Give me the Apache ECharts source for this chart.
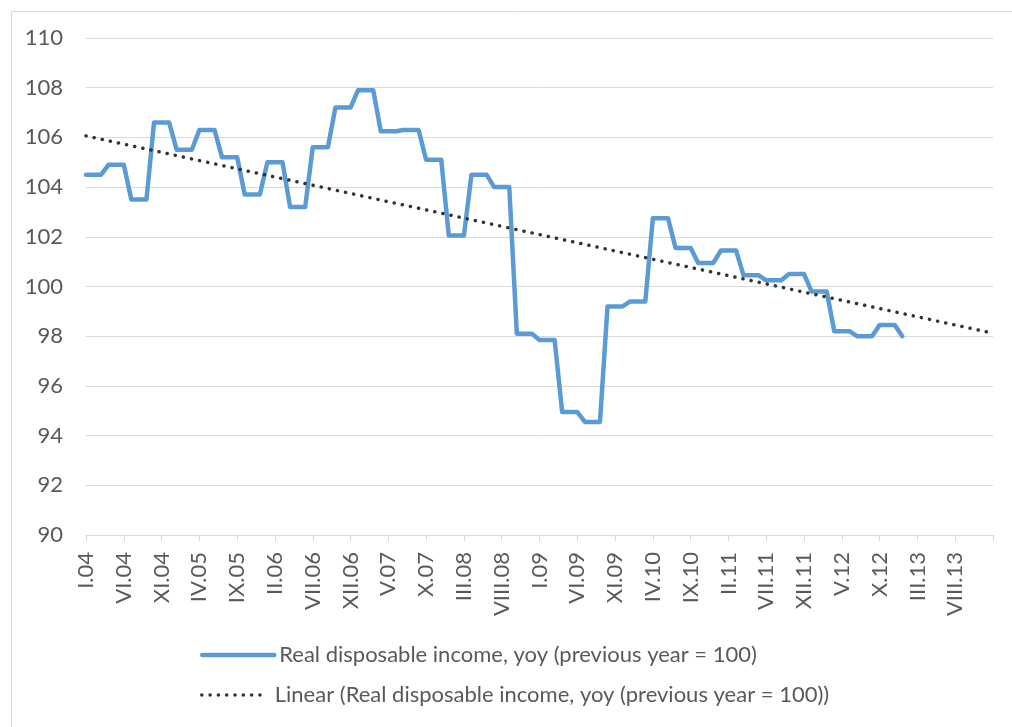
<!DOCTYPE html>
<html>
<head>
<meta charset="utf-8">
<script src="https://cdn.jsdelivr.net/npm/echarts@6/dist/echarts.min.js"></script>
<style>
  html, body { margin: 0; padding: 0; background: #fff; }
  #myChart { width: 1012px; height: 727px; }
</style>
</head>
<body>
<div id="myChart"></div>
<script>
// month labels I.04 ... I.14
var romanMonths = ['I', 'II', 'III', 'IV', 'V', 'VI', 'VII', 'VIII', 'IX', 'X', 'XI', 'XII'];
var yearLabels = ['04', '05', '06', '07', '08', '09', '10', '11', '12', '13', '14'];

// real disposable income, yoy, monthly I.04 - I.13 (quarterly values held per month)
var incomeValues = [
  104.5, 104.5, 104.5, 104.9, 104.9, 104.9, 103.5, 103.5, 103.5, 106.6, 106.6, 106.6,
  105.5, 105.5, 105.5, 106.3, 106.3, 106.3, 105.2, 105.2, 105.2, 103.7, 103.7, 103.7,
  105.0, 105.0, 105.0, 103.2, 103.2, 103.2, 105.6, 105.6, 105.6, 107.2, 107.2, 107.2,
  107.9, 107.9, 107.9, 106.25, 106.25, 106.25, 106.3, 106.3, 106.3, 105.1, 105.1, 105.1,
  102.05, 102.05, 102.05, 104.5, 104.5, 104.5, 104.0, 104.0, 104.0, 98.1, 98.1, 98.1,
  97.85, 97.85, 97.85, 94.95, 94.95, 94.95, 94.55, 94.55, 94.55, 99.2, 99.2, 99.2,
  99.4, 99.4, 99.4, 102.75, 102.75, 102.75, 101.55, 101.55, 101.55, 100.95, 100.95, 100.95,
  101.45, 101.45, 101.45, 100.45, 100.45, 100.45, 100.25, 100.25, 100.25, 100.5, 100.5, 100.5,
  99.8, 99.8, 99.8, 98.2, 98.2, 98.2, 98.0, 98.0, 98.0, 98.45, 98.45, 98.45,
  98.0
];

// linear trend end points: [category index, value]
var trendPoints = [[0, 106.06], [120, 98.12]];

var seriesName = 'Real disposable income, yoy (previous year = 100)';
var trendName = 'Linear (Real disposable income, yoy (previous year = 100))';

var categories = [];
for (var y = 0; y < yearLabels.length; y++) {
  for (var m = 0; m < 12; m++) {
    categories.push(romanMonths[m] + '.' + yearLabels[y]);
  }
}
categories = categories.slice(0, 121);

var font = 'Lato, "Noto Sans", sans-serif';
var textColor = '#595959';
var blue = '#5b9bd5';
var dotColor = '#333333';

var dom = document.getElementById('myChart');
var myChart = echarts.init(dom, null, { renderer: 'canvas' });

var option = {
  animation: false,
  backgroundColor: '#fff',
  graphic: [{
    type: 'rect',
    left: 9, top: 9,
    shape: { width: 1020, height: 740 },
    style: { fill: 'none', stroke: '#d9d9d9', lineWidth: 1 }
  }],
  legend: [
    {
      data: [seriesName],
      left: 195, top: 637,
      itemWidth: 72, itemHeight: 14,
      itemStyle: { opacity: 0 },
      lineStyle: { color: blue, width: 4.5, cap: 'round' },
      textStyle: { fontFamily: font, fontSize: 22, color: textColor, lineHeight: 26 }
    },
    {
      data: [trendName],
      left: 195, top: 677,
      itemWidth: 64, itemHeight: 14,
      itemStyle: { opacity: 0 },
      lineStyle: { color: dotColor, width: 3.5, type: [0.1, 8.2], cap: 'round' },
      textStyle: { fontFamily: font, fontSize: 22, color: textColor, lineHeight: 26, padding: [0, 0, 0, 4] }
    }
  ],
  grid: { left: 86, right: 19, top: 38, bottom: 192, containLabel: false },
  xAxis: {
    type: 'category',
    data: categories,
    boundaryGap: false,
    axisLine: { lineStyle: { color: '#d9d9d9', width: 1 } },
    axisTick: {
      length: 6,
      interval: function (index) { return index % 5 === 0; },
      lineStyle: { color: '#d9d9d9' }
    },
    axisLabel: {
      rotate: 90,
      margin: 17,
      interval: function (index) { return index % 5 === 0 && index < 120; },
      fontFamily: font, fontSize: 22, color: textColor
    },
    splitLine: { show: false }
  },
  yAxis: {
    type: 'value',
    min: 90, max: 110, interval: 2,
    axisLine: { show: false },
    axisTick: { show: false },
    axisLabel: { margin: 23, fontFamily: font, fontSize: 22, color: textColor },
    splitLine: { lineStyle: { color: '#d9d9d9', width: 1 } }
  },
  series: [
    {
      name: seriesName,
      type: 'line',
      data: incomeValues,
      symbol: 'none',
      lineStyle: { color: blue, width: 4.5, join: 'round', cap: 'round' },
      itemStyle: { color: blue },
      z: 2
    },
    {
      name: trendName,
      type: 'line',
      data: trendPoints,
      symbol: 'none',
      lineStyle: { color: dotColor, width: 3.5, type: [0.1, 8.2], cap: 'round' },
      itemStyle: { color: dotColor },
      z: 3
    }
  ]
};

myChart.setOption(option);
window.addEventListener('resize', myChart.resize);
</script>
</body>
</html>
